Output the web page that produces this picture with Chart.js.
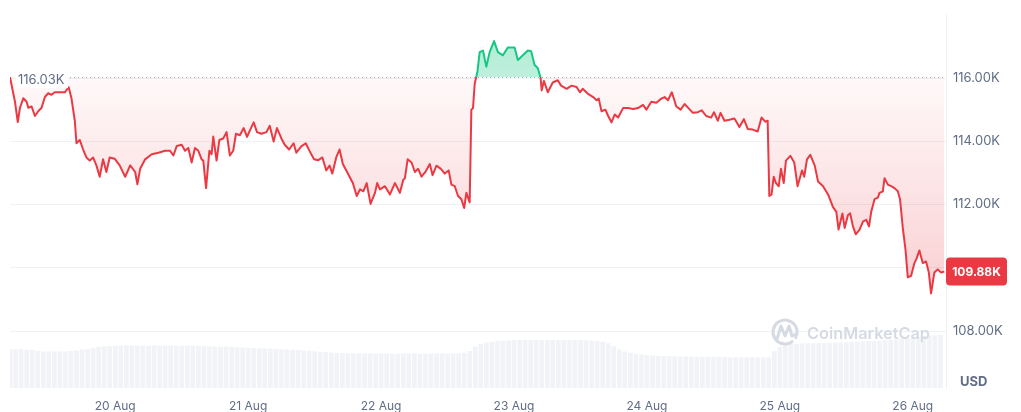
<!DOCTYPE html>
<html>
<head>
<meta charset="utf-8">
<script src="https://cdn.jsdelivr.net/npm/chart.js@4.4.1/dist/chart.umd.min.js"></script>
<style>
  html, body { margin: 0; padding: 0; background: #fff; }
  #wrap { width: 1021px; height: 412px; position: relative; }
</style>
</head>
<body>
<div id="wrap"><canvas id="priceChart"></canvas></div>
<script>
// hours since 19 Aug ~05:00 and BTC price
const priceHours = [
  0, 0.9, 1.4, 1.8, 2.4, 3.0, 3.3, 3.9, 4.5, 5.1, 5.7, 6.3, 6.9, 7.5, 8.1, 9.0, 9.9, 10.6, 11.1, 11.7,
  12.0, 12.6, 13.2, 13.8, 14.4, 15.0, 15.6, 16.2, 16.8, 17.4, 18.0, 18.9, 19.8, 20.8, 21.7, 22.6, 23.0, 23.5, 24.4, 25.6,
  26.8, 28.0, 28.9, 29.5, 30.1, 31.0, 31.6, 32.2, 32.8, 33.4, 34.0, 34.6, 34.9, 35.4, 36.0, 36.4, 36.7, 37.3, 37.8, 38.5,
  39.1, 39.7, 40.3, 40.8, 41.5, 42.2, 42.8, 43.3, 44.0, 44.6, 45.4, 46.3, 46.9, 47.6, 48.2, 49.0, 49.6, 50.4, 51.2, 51.7,
  52.6, 53.4, 54.1, 54.9, 55.6, 56.4, 57.1, 57.7, 58.2, 58.9, 59.5, 60.1, 61.0, 61.9, 62.6, 63.2, 63.8, 64.4, 65.1, 65.9,
  66.3, 66.8, 67.7, 68.6, 69.5, 70.4, 71.0, 71.3, 71.8, 72.5, 73.1, 73.7, 74.3, 75.0, 75.8, 76.3, 77.0, 77.8, 78.5, 79.2,
  79.7, 80.3, 80.9, 81.5, 82.0, 82.4, 83.0, 83.3, 83.6, 83.9, 84.4, 84.8, 85.4, 86.0, 86.6, 87.4, 88.1, 89.0, 89.9, 91.1,
  91.7, 92.6, 93.5, 94.1, 94.7, 95.3, 95.8, 96.0, 96.4, 97.1, 98.0, 98.9, 99.5, 100.5, 101.4, 102.3, 102.9, 103.4, 104.3, 105.3,
  105.9, 106.3, 106.8, 107.5, 108.0, 108.6, 109.2, 109.8, 110.7, 111.6, 112.5, 113.4, 114.3, 114.9, 115.8, 116.7, 117.6, 118.2, 118.8, 119.5,
  120.3, 121.1, 121.8, 122.5, 123.3, 124.2, 124.9, 125.7, 126.6, 127.1, 127.8, 128.3, 129.0, 129.9, 130.8, 131.7, 132.5, 133.2, 134.1, 135.0,
  135.7, 136.4, 136.8, 137.1, 137.5, 137.9, 138.3, 138.8, 139.2, 139.7, 140.1, 140.9, 141.6, 142.2, 143.0, 143.4, 143.9, 144.5, 145.3, 145.9,
  146.8, 147.7, 148.6, 149.2, 149.6, 150.3, 150.7, 151.3, 151.7, 152.2, 152.7, 153.4, 154.0, 154.6, 155.1, 155.5, 156.1, 156.7, 157.0, 157.6,
  157.9, 158.5, 159.1, 159.7, 160.3, 160.7, 161.2, 161.7, 162.1, 162.7, 163.3, 163.7, 164.2, 164.8, 165.4, 165.9, 166.3, 166.9, 167.5, 168.1,
  168.7
];
const priceValues = [
  116030, 115250, 114610, 115060, 115360, 115250, 115060, 115100, 114800, 114950, 115060, 115400, 115520, 115470, 115550, 115550, 115550, 115710, 115360, 114650,
  113940, 114040, 113740, 113490, 113390, 113490, 113240, 112880, 113430, 113030, 113490, 113450, 113240, 112880, 113240, 113030, 112640, 113130, 113430, 113590,
  113640, 113700, 113700, 113550, 113850, 113890, 113700, 113790, 113330, 113790, 113700, 113430, 113390, 112520, 113700, 113590, 114150, 113390, 114040, 114090,
  114290, 113550, 113700, 114240, 114190, 114420, 114140, 114340, 114600, 114290, 114240, 114290, 114490, 113990, 114420, 114090, 113890, 113740, 113940, 113640,
  113840, 113940, 113690, 113430, 113400, 113490, 113080, 113230, 112980, 113490, 113740, 113280, 112980, 112680, 112270, 112480, 112420, 112680, 112020, 112370,
  112680, 112480, 112580, 112320, 112680, 112370, 112780, 112830, 113430, 113330, 113030, 113130, 112880, 113030, 113280, 112930, 113230, 113130, 112980, 113080,
  112630, 112580, 112270, 112170, 111890, 112370, 112070, 115000, 115050, 115810, 116210, 116820, 116870, 116360, 116820, 117170, 116820, 116720, 116970, 116970,
  116570, 116720, 116870, 116850, 116420, 116310, 116010, 115610, 115910, 115550, 115860, 115930, 115760, 115660, 115760, 115720, 115550, 115660, 115510, 115400,
  115300, 115350, 114950, 115000, 114800, 114600, 114850, 114750, 115050, 115050, 115020, 115050, 115150, 115000, 115250, 115220, 115350, 115400, 115300, 115550,
  115100, 115000, 115180, 115050, 114900, 114920, 114980, 114800, 114750, 114920, 114650, 114900, 114650, 114680, 114720, 114450, 114700, 114390, 114370, 114310,
  114750, 114620, 114650, 112270, 112320, 112880, 112680, 112580, 113130, 112680, 113390, 113540, 113330, 112580, 113080, 112880, 113430, 113570, 113230, 112730,
  112580, 112320, 111920, 111770, 111210, 111720, 111260, 111670, 111720, 111310, 111060, 111210, 111460, 111520, 111310, 111770, 112170, 112220, 112370, 112420,
  112830, 112630, 112580, 112520, 112420, 112170, 111260, 110550, 109700, 109750, 110150, 110300, 110550, 110150, 110200, 109850, 109190, 109850, 109950, 109850,
  109880
];
// hourly traded volume, billions USD (one bar per hour)
const volumeValues = [
  2.64, 2.62, 2.65, 2.60, 2.58,
  2.52, 2.49, 2.50, 2.48, 2.50, 2.49, 2.51, 2.55,
  2.62, 2.66, 2.72,
  2.80, 2.84, 2.86, 2.88, 2.87, 2.89, 2.90, 2.88, 2.89,
  2.88, 2.90, 2.89, 2.88, 2.90, 2.88, 2.87, 2.89, 2.88, 2.86, 2.85,
  2.84, 2.83, 2.82, 2.82, 2.80, 2.78,
  2.76, 2.74, 2.72, 2.71, 2.70, 2.68, 2.66,
  2.64, 2.62, 2.60, 2.58, 2.56,
  2.53, 2.50, 2.47, 2.44, 2.41,
  2.38, 2.37, 2.36, 2.36, 2.35, 2.35, 2.34, 2.34, 2.35, 2.34, 2.33, 2.33, 2.34, 2.35, 2.34, 2.33, 2.33, 2.34, 2.34, 2.35, 2.35, 2.36, 2.37, 2.40,
  2.52, 2.80, 3.00, 3.10, 3.14,
  3.20, 3.22, 3.24, 3.25, 3.26, 3.27, 3.27, 3.28, 3.27, 3.27, 3.26, 3.27, 3.28, 3.27, 3.26, 3.26, 3.25, 3.24, 3.20, 3.14,
  3.05, 2.85, 2.62, 2.48, 2.40, 2.34,
  2.28, 2.24, 2.21, 2.19, 2.17, 2.16, 2.16, 2.15, 2.15, 2.14, 2.13, 2.13, 2.12, 2.12, 2.11, 2.11, 2.10,
  2.10, 2.09, 2.09, 2.09, 2.08, 2.08, 2.10,
  2.50, 2.80, 2.95,
  3.00, 3.02, 3.03, 3.04, 3.05, 3.06, 3.07, 3.08, 3.09, 3.10, 3.12, 3.14, 3.16, 3.18, 3.20, 3.22, 3.24, 3.26, 3.28, 3.30,
  3.35, 3.40, 3.45, 3.50, 3.54, 3.57, 3.59, 3.60
];
const dayTicks = [19, 43, 67, 91, 115, 139, 163];
const dayLabels = ['20 Aug', '21 Aug', '22 Aug', '23 Aug', '24 Aug', '25 Aug', '26 Aug'];
const priceTicks = [108000, 110000, 112000, 114000, 116000];
const openPrice = 116030;

const RED = '#ea3943';
const GREEN = '#16c784';
const TEXT = '#616e85';
const GRID = '#eff2f5';
const FONT = 'Inter, "Noto Sans", sans-serif';

function fmtK(v) {
  return (v / 1000).toFixed(2) + 'K';
}

// green above the open price, red below
function lineColor(ctx) {
  const chart = ctx.chart;
  const area = chart.chartArea;
  if (!area) return RED;
  const y = chart.scales.y.getPixelForValue(openPrice);
  const stop = Math.min(1, Math.max(0, (y - area.top) / (area.bottom - area.top)));
  const g = chart.ctx.createLinearGradient(0, area.top, 0, area.bottom);
  g.addColorStop(0, GREEN);
  g.addColorStop(stop, GREEN);
  g.addColorStop(stop, RED);
  g.addColorStop(1, RED);
  return g;
}

function fillColor(ctx) {
  const chart = ctx.chart;
  const area = chart.chartArea;
  if (!area) return 'rgba(234,57,67,0.1)';
  const y = chart.scales.y.getPixelForValue(openPrice);
  const stop = Math.min(1, Math.max(0, (y - area.top) / (area.bottom - area.top)));
  const g = chart.ctx.createLinearGradient(0, area.top, 0, area.bottom);
  g.addColorStop(0, 'rgba(22,199,132,0.36)');
  g.addColorStop(stop, 'rgba(22,199,132,0.28)');
  g.addColorStop(stop, 'rgba(234,57,67,0.03)');
  g.addColorStop(1, 'rgba(234,57,67,0.33)');
  return g;
}

const overlayPlugin = {
  id: 'overlay',
  beforeDatasetsDraw(chart) {
    const { ctx, chartArea, scales } = chart;
    const y = Math.round(scales.y.getPixelForValue(openPrice)) + 0.5;
    ctx.save();
    ctx.strokeStyle = '#a6b0c3';
    ctx.lineWidth = 1;
    ctx.setLineDash([1, 3]);
    ctx.beginPath();
    ctx.moveTo(70, y);
    ctx.lineTo(chartArea.right, y);
    ctx.stroke();
    ctx.restore();
  },
  afterDatasetsDraw(chart) {
    const { ctx, chartArea, scales } = chart;
    ctx.save();

    // open price label
    const yOpen = scales.y.getPixelForValue(openPrice);
    ctx.fillStyle = '#fff';
    ctx.fillRect(16, yOpen - 5, 52, 16);
    ctx.font = '13px ' + FONT;
    ctx.fillStyle = TEXT;
    ctx.textAlign = 'left';
    ctx.textBaseline = 'middle';
    ctx.fillText(fmtK(openPrice), 18, yOpen + 3);

    // watermark
    ctx.strokeStyle = '#d6dbe3';
    ctx.lineWidth = 3;
    ctx.lineCap = 'round';
    ctx.lineJoin = 'round';
    ctx.beginPath();
    ctx.arc(785, 332, 12, 0.3 * Math.PI, 2.15 * Math.PI);
    ctx.stroke();
    ctx.beginPath();
    ctx.moveTo(777, 339);
    ctx.lineTo(781, 326);
    ctx.lineTo(785, 336);
    ctx.lineTo(789, 326);
    ctx.lineTo(792, 336);
    ctx.lineTo(796, 334);
    ctx.stroke();
    ctx.font = '600 16.3px ' + FONT;
    ctx.fillStyle = '#d6dbe3';
    ctx.fillText('CoinMarketCap', 807, 334);

    // current price badge
    const last = priceValues[priceValues.length - 1];
    const yLast = scales.y.getPixelForValue(last);
    ctx.fillStyle = RED;
    ctx.beginPath();
    ctx.roundRect(chartArea.right, yLast - 14, 61, 28, 4);
    ctx.fill();
    ctx.font = 'bold 12px ' + FONT;
    ctx.fillStyle = '#fff';
    ctx.textAlign = 'center';
    ctx.fillText(fmtK(last), chartArea.right + 30.5, yLast + 1);

    // currency
    ctx.font = 'bold 13px ' + FONT;
    ctx.fillStyle = TEXT;
    ctx.textAlign = 'left';
    ctx.fillText('USD', 960, 382);
    ctx.restore();
  }
};

const priceData = priceHours.map((h, i) => ({ x: h, y: priceValues[i] }));
const volumeData = volumeValues.map((v, i) => ({ x: i, y: v }));

new Chart(document.getElementById('priceChart'), {
  type: 'line',
  data: {
    datasets: [
      {
        type: 'line',
        label: 'Price',
        data: priceData,
        yAxisID: 'y',
        borderColor: lineColor,
        backgroundColor: fillColor,
        borderWidth: 2,
        pointRadius: 0,
        tension: 0,
        borderJoinStyle: 'round',
        fill: { value: openPrice },
        order: 1
      },
      {
        type: 'bar',
        label: 'Volume',
        data: volumeData,
        yAxisID: 'yv',
        backgroundColor: 'rgba(207,214,228,0.3)',
        barPercentage: 0.85,
        categoryPercentage: 1,
        order: 2
      }
    ]
  },
  options: {
    responsive: true,
    maintainAspectRatio: false,
    animation: false,
    layout: { padding: { left: 10, top: 0, right: 0, bottom: 0 } },
    plugins: {
      legend: { display: false },
      tooltip: { enabled: false }
    },
    scales: {
      x: {
        type: 'linear',
        min: 0,
        max: 169,
        offset: false,
        grid: { display: false, offset: false },
        border: { display: false },
        afterBuildTicks: scale => { scale.ticks = dayTicks.map(v => ({ value: v })); },
        afterFit: scale => { scale.height = 24; },
        ticks: {
          padding: 3,
          maxRotation: 0,
          autoSkip: false,
          color: TEXT,
          font: { family: FONT, size: 12 },
          callback: (v, i) => dayLabels[i]
        }
      },
      y: {
        position: 'right',
        min: 106200,
        max: 118000,
        grid: { color: GRID, drawTicks: false },
        border: { display: true, color: GRID },
        afterBuildTicks: scale => { scale.ticks = priceTicks.map(v => ({ value: v })); },
        afterFit: scale => { scale.width = 75; },
        ticks: {
          padding: 7,
          color: TEXT,
          font: { family: FONT, size: 13 },
          callback: v => fmtK(v)
        }
      },
      yv: {
        display: false,
        min: 0,
        max: 25.4
      }
    }
  },
  plugins: [overlayPlugin]
});
</script>
</body>
</html>
